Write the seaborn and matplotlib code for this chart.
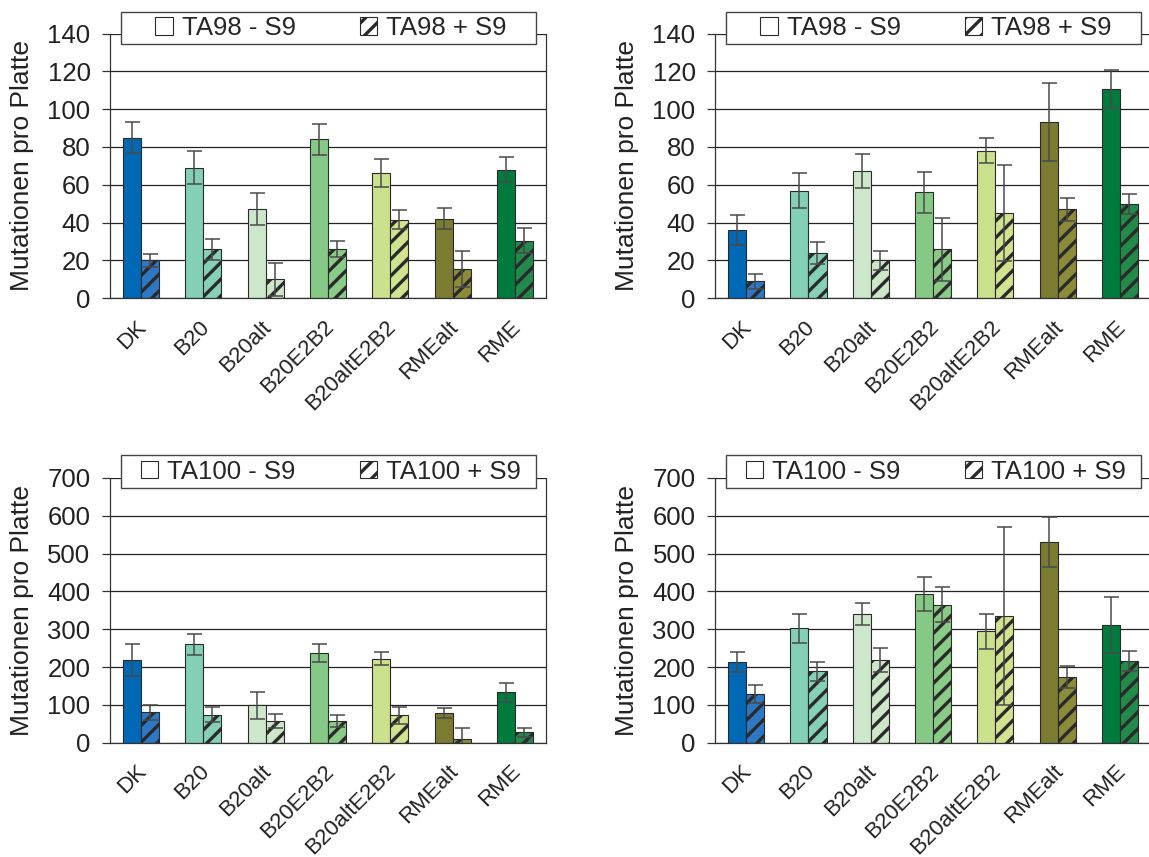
#!/usr/bin/env python3
"""Ames test: mutations per plate for TA98 / TA100 with and without S9."""

import matplotlib
import numpy as np
import pandas as pd
import seaborn as sns

matplotlib.use("Agg")
import matplotlib.pyplot as plt
from matplotlib.patches import Patch, Rectangle
from matplotlib.transforms import ScaledTranslation

FUELS = ["DK", "B20", "B20alt", "B20E2B2", "B20altE2B2", "RMEalt", "RME"]
COLORS_MINUS = ["#0068b4", "#84d0b7", "#cde7ca", "#86c987", "#cce18e", "#7b7b31", "#007b3e"]
COLORS_PLUS = ["#2d78c4", "#86d0b8", "#cfe7c9", "#8acb88", "#cfe390", "#8b8b3a", "#228a4b"]

# top left: TA98
TA98_L_MINUS = [85, 69, 47, 84, 66, 42, 68]
TA98_L_MINUS_ERR = [8, 8.7, 8.5, 8, 7.4, 5.6, 6.7]
TA98_L_PLUS = [20, 26, 10, 26, 41.5, 15.5, 30.5]
TA98_L_PLUS_ERR = [3.3, 5.6, 8.6, 4.2, 5.1, 9.7, 6.5]

# top right: TA98
TA98_R_MINUS = [36, 57, 67.5, 56, 78, 93, 110.5]
TA98_R_MINUS_ERR = [8, 9.4, 9, 10.7, 6.7, 20.6, 10]
TA98_R_PLUS = [9, 24, 20, 26, 45, 47, 50]
TA98_R_PLUS_ERR = [4, 6, 5.2, 16.7, 25.5, 6.2, 5.4]

# bottom left: TA100
TA100_L_MINUS = [218, 260, 99, 237, 222, 78, 133]
TA100_L_MINUS_ERR = [42, 27, 36, 24, 17, 13, 25]
TA100_L_PLUS = [80, 74, 57, 57, 72, 11, 27]
TA100_L_PLUS_ERR = [20, 19, 19, 16, 23, 29, 13]

# bottom right: TA100
TA100_R_MINUS = [213, 302, 340, 393, 294, 531, 311]
TA100_R_MINUS_ERR = [26, 38, 28, 45, 46, 66, 73]
TA100_R_PLUS = [129, 189, 218, 365, 334, 173, 216]
TA100_R_PLUS_ERR = [23, 25, 31, 47, 235, 29, 26]

EDGE = "#2a2a2a"
TEXT = "#222222"
FONT_SIZE = 18.5
XLABEL_SIZE = 16


def draw_panel(fig, ax, strain, minus, minus_err, plus, plus_err, ymax, ystep, legend_y):
    minus_label = f"{strain} - S9"
    plus_label = f"{strain} + S9"
    df = pd.DataFrame({
        "fuel": FUELS * 2,
        "cond": [minus_label] * len(FUELS) + [plus_label] * len(FUELS),
        "value": list(minus) + list(plus),
    })
    sns.barplot(data=df, x="fuel", y="value", hue="cond", order=FUELS,
                hue_order=[minus_label, plus_label], width=0.58, gap=0,
                errorbar=None, legend=False, saturation=1, ax=ax)

    for container, colors, errs, hatch in zip(
        ax.containers, (COLORS_MINUS, COLORS_PLUS), (minus_err, plus_err), ("", "//")
    ):
        for bar, color in zip(container, colors):
            bar.set_facecolor(color)
            bar.set_edgecolor(EDGE)
            bar.set_linewidth(0.8)
            bar.set_hatch(hatch)
            bar.set_zorder(2)
        xs = [b.get_x() + b.get_width() / 2 for b in container]
        ys = [b.get_height() for b in container]
        ax.errorbar(xs, ys, yerr=errs, fmt="none", ecolor="#4a4a4a",
                    elinewidth=1.1, capsize=5.4, capthick=1.1, zorder=3)

    ax.set_xlim(-0.5, len(FUELS) - 0.5)
    ax.set_ylim(0, ymax)
    ax.set_yticks(np.arange(0, ymax + 1, ystep))
    ax.yaxis.grid(True, color="#222222", linewidth=0.9)
    ax.xaxis.grid(False)
    ax.set_axisbelow(True)

    ax.set_xticks(range(len(FUELS)))
    ax.set_xticks(np.arange(-0.5, len(FUELS)), minor=True)
    ax.set_xticklabels(FUELS, rotation=45, ha="right", va="top",
                       rotation_mode="anchor")
    ax.tick_params(axis="x", which="major", length=0, pad=13,
                   labelsize=XLABEL_SIZE, labelcolor=TEXT)
    ax.tick_params(axis="x", which="minor", length=4.5, width=0.9,
                   color="#333333", direction="out")
    ax.tick_params(axis="y", length=6, width=0.9, color="#333333",
                   pad=8, labelsize=FONT_SIZE, labelcolor=TEXT, left=True)
    shift = ScaledTranslation(-0.05, 0, fig.dpi_scale_trans)
    for label in ax.get_xticklabels():
        label.set_transform(label.get_transform() + shift)

    ax.set_xlabel("")
    ax.set_ylabel("Mutationen pro Platte", fontsize=19, color=TEXT, labelpad=10)

    for side in ("left", "right", "bottom"):
        ax.spines[side].set_visible(True)
        ax.spines[side].set_color("#333333")
        ax.spines[side].set_linewidth(0.9)
    ax.spines["top"].set_visible(False)

    handles = [
        Patch(facecolor="white", edgecolor=EDGE, linewidth=0.8),
        Patch(facecolor="white", edgecolor=EDGE, linewidth=0.8, hatch="//"),
    ]
    ax.legend(handles, [minus_label, plus_label], loc="center",
              bbox_to_anchor=(0.507, legend_y[2]), ncol=2, frameon=False,
              fontsize=FONT_SIZE, handlelength=0.68, handleheight=0.68,
              handletextpad=0.35, columnspacing=2.5, borderpad=0.1)
    ax.add_patch(Rectangle((0.025, legend_y[0]), 0.952, legend_y[1] - legend_y[0],
                           transform=ax.transAxes, facecolor="white",
                           edgecolor="#444444", linewidth=1.0, clip_on=False,
                           zorder=4))


def main():
    sns.set_theme(style="white")
    plt.rcParams["font.family"] = ["Liberation Sans", "DejaVu Sans"]
    plt.rcParams["hatch.linewidth"] = 2.4

    fig = plt.figure(figsize=(11.49, 8.57), dpi=100)
    left_col, right_col = 0.0957, 0.6223
    top_row, bottom_row = 0.6519, 0.1334
    w, h = 0.3795, 0.3090

    ax_tl = fig.add_axes([left_col, top_row, w, h])
    ax_tr = fig.add_axes([right_col, top_row, w, h])
    ax_bl = fig.add_axes([left_col, bottom_row, w, h])
    ax_br = fig.add_axes([right_col, bottom_row, w, h])

    top_legend = (0.962, 1.082, 1.022)
    bottom_legend = (0.960, 1.088, 1.024)

    draw_panel(fig, ax_tl, "TA98", TA98_L_MINUS, TA98_L_MINUS_ERR, TA98_L_PLUS,
               TA98_L_PLUS_ERR, 140, 20, top_legend)
    draw_panel(fig, ax_tr, "TA98", TA98_R_MINUS, TA98_R_MINUS_ERR, TA98_R_PLUS,
               TA98_R_PLUS_ERR, 140, 20, top_legend)
    draw_panel(fig, ax_bl, "TA100", TA100_L_MINUS, TA100_L_MINUS_ERR, TA100_L_PLUS,
               TA100_L_PLUS_ERR, 700, 100, bottom_legend)
    draw_panel(fig, ax_br, "TA100", TA100_R_MINUS, TA100_R_MINUS_ERR, TA100_R_PLUS,
               TA100_R_PLUS_ERR, 700, 100, bottom_legend)

    fig.savefig("out.png", dpi=100, facecolor="white")
    plt.close(fig)


if __name__ == "__main__":
    main()
